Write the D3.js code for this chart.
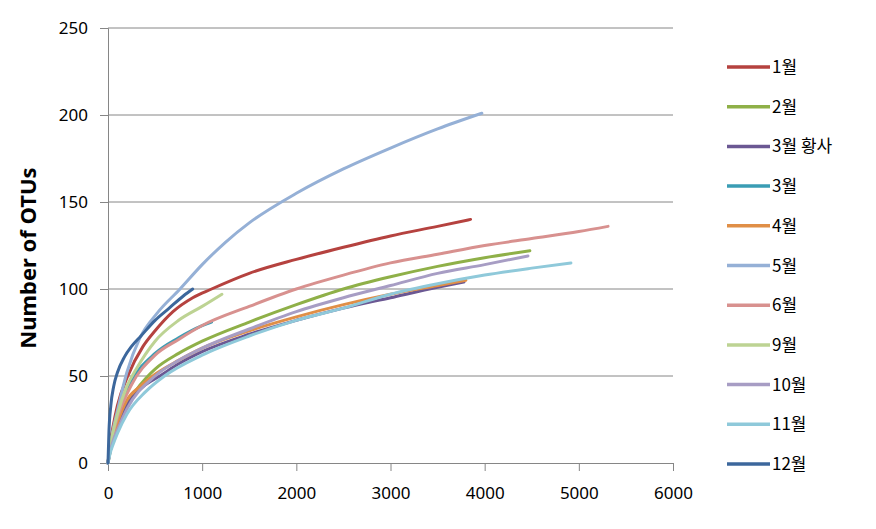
<!DOCTYPE html>
<html>
<head>
<meta charset="utf-8">
<script src="https://cdn.jsdelivr.net/npm/d3@7"></script>
<style>
  body { margin: 0; background: #fff; }
  svg { display: block; }
</style>
</head>
<body>
<svg width="876" height="529"></svg>
<script>
// rarefaction curves, [sequences, OTUs]
const jan = [[0,0],[25,12],[50,20],[100,33],[210,50],[372,67],[500,76],[690,87],[900,95],[1100,100],[1500,109],[2000,117],[2500,124],[3000,130.5],[3500,136],[3850,140]]
const feb = [[0,0],[25,7],[50,12],[100,20],[200,33],[425,50],[500,54],[750,63],[1000,70],[1500,81],[2000,91],[2500,100],[3000,107],[3500,113],[4000,118],[4480,122]]
const marDust = [[0,0],[25,8],[50,13],[100,21],[200,33],[400,45],[550,50],[750,57],[1000,64],[1500,74],[2000,82],[2500,89],[3000,95],[3500,101],[3780,104]]
const mar = [[0,0],[25,10],[50,17],[100,28],[250,47],[500,63],[750,72],[1000,79],[1100,81]]
const apr = [[0,0],[25,8],[50,14],[100,23],[200,36],[340,44],[500,51],[750,59],[1000,66],[1500,76],[2000,84],[2500,91],[3000,97],[3500,102],[3800,105]]
const may = [[0,0],[25,10],[50,18],[100,30],[200,52],[340,72],[520,86],[765,100],[1000,114],[1250,127],[1500,138],[2000,155],[2500,169],[3000,181],[3500,192],[3970,201]]
const jun = [[0,0],[25,9],[50,16],[100,26],[250,45],[500,62],[750,71],[1000,79],[1500,90],[2000,100],[2500,108],[3000,115],[3500,120],[4000,125],[4500,129],[5000,133],[5310,136]]
const sep = [[0,0],[25,10],[50,17],[100,28],[200,44],[300,54],[500,70],[750,82],[1000,90],[1210,97]]
const oct = [[0,0],[25,7],[50,12],[100,19],[200,31],[500,50],[750,59],[1000,66],[1500,77],[2000,87],[2500,95],[3000,102],[3500,109],[4000,114],[4460,119]]
const nov = [[0,0],[25,6],[50,10],[100,17],[200,28],[400,41],[600,50],[1000,62],[1500,73],[2000,82],[2500,89],[3000,97],[3500,103],[4000,108],[4500,112],[4916,115]]
const dec = [[0,0],[10,18],[30,33],[60,44],[100,52],[175,61],[250,67],[350,73],[500,82],[650,89],[800,96],[900,100]]

const seriesNames = ["1월", "2월", "3월 황사", "3월", "4월", "5월", "6월", "9월", "10월", "11월", "12월"]
const seriesData = [jan, feb, marDust, mar, apr, may, jun, sep, oct, nov, dec]
const seriesColors = ["#B5423F", "#8FB048", "#6B5893", "#3A9DB4", "#E08F47", "#95B0D6", "#D8918F", "#BDD393", "#A79DC4", "#8FC9DA", "#3C679C"]

const xTicks = [0, 1000, 2000, 3000, 4000, 5000, 6000]
const yTicks = [0, 50, 100, 150, 200, 250]

const margin = {top: 28, right: 203, bottom: 66, left: 108}
const plotWidth = 876 - margin.left - margin.right
const plotHeight = 529 - margin.top - margin.bottom

const svg = d3.select("svg")
const g = svg.append("g")
    .attr("transform", `translate(${margin.left}, ${margin.top})`)

const x = d3.scaleLinear()
    .domain([0, 6000])
    .range([0, plotWidth])

const y = d3.scaleLinear()
    .domain([0, 250])
    .range([plotHeight, 0])

// gridlines
g.selectAll(".grid")
    .data(yTicks.slice(1))
    .enter().append("line")
    .attr("x1", 0).attr("x2", plotWidth)
    .attr("y1", d => y(d)).attr("y2", d => y(d))
    .attr("stroke", "#868686")
    .attr("stroke-width", 1)

const tickFont = "'Noto Sans', 'DejaVu Sans', sans-serif"

// y axis
const yAxis = g.append("g")
    .call(d3.axisLeft(y).tickValues(yTicks).tickSize(8).tickPadding(12))
yAxis.select(".domain").attr("stroke", "#868686")
yAxis.selectAll(".tick line").attr("stroke", "#868686")
yAxis.selectAll("text")
    .attr("font-family", tickFont)
    .attr("font-size", "17px")
    .attr("fill", "#000")

// x axis
const xAxis = g.append("g")
    .attr("transform", `translate(0, ${plotHeight})`)
    .call(d3.axisBottom(x).tickValues(xTicks).tickFormat(d3.format("d")).tickSize(8).tickPadding(16))
xAxis.select(".domain").attr("stroke", "#868686")
xAxis.selectAll(".tick line").attr("stroke", "#868686")
xAxis.selectAll("text")
    .attr("font-family", tickFont)
    .attr("font-size", "17px")
    .attr("fill", "#000")

// Y label
g.append("text")
    .attr("x", -230)
    .attr("y", -72)
    .attr("font-size", "22px")
    .attr("font-family", tickFont)
    .attr("font-weight", "bold")
    .attr("text-anchor", "middle")
    .attr("transform", "rotate(-90)")
    .text("Number of OTUs")

// curves
const line = d3.line()
    .x(d => x(d[0]))
    .y(d => y(d[1]))
    .curve(d3.curveMonotoneX)

seriesData.forEach((s, i) => {
    g.append("path")
        .datum(s)
        .attr("fill", "none")
        .attr("stroke", seriesColors[i])
        .attr("stroke-width", 3)
        .attr("stroke-linecap", "round")
        .attr("d", line)
})

// legend
const legend = svg.append("g")
    .attr("transform", "translate(727, 67)")

seriesNames.forEach((name, i) => {
    const row = legend.append("g")
        .attr("transform", `translate(0, ${i * 39.7})`)
    row.append("line")
        .attr("x1", 0).attr("x2", 43)
        .attr("stroke", seriesColors[i])
        .attr("stroke-width", 3.5)
    row.append("text")
        .attr("x", 45)
        .attr("y", 6)
        .attr("font-family", "'Noto Sans CJK KR', sans-serif")
        .attr("font-size", "17px")
        .text(name)
})
</script>
</body>
</html>
